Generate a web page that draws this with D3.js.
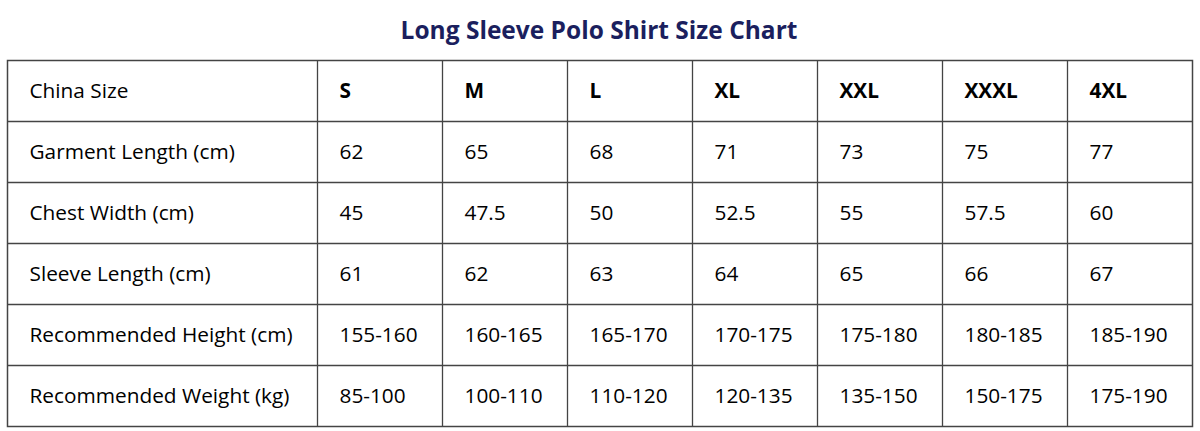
<!DOCTYPE html>
<html>
<head>
<meta charset="utf-8">
<script src="https://cdn.jsdelivr.net/npm/d3@7"></script>
<style>
  body { margin: 0; background: #fff; }
  svg { display: block; font-family: "Open Sans", sans-serif; }
</style>
</head>
<body>
<svg id="chart" width="1200" height="431"></svg>
<script>
const title = 'Long Sleeve Polo Shirt Size Chart';
const sizes = ['S', 'M', 'L', 'XL', 'XXL', 'XXXL', '4XL'];
const rowLabels = ['Garment Length (cm)', 'Chest Width (cm)', 'Sleeve Length (cm)', 'Recommended Height (cm)', 'Recommended Weight (kg)'];
const garmentLength = ['62', '65', '68', '71', '73', '75', '77'];
const chestWidth = ['45', '47.5', '50', '52.5', '55', '57.5', '60'];
const sleeveLength = ['61', '62', '63', '64', '65', '66', '67'];
const recHeight = ['155-160', '160-165', '165-170', '170-175', '175-180', '180-185', '185-190'];
const recWeight = ['85-100', '100-110', '110-120', '120-135', '135-150', '150-175', '175-190'];

// table rows: header first
const rows = [['China Size', ...sizes]].concat(
  [garmentLength, chestWidth, sleeveLength, recHeight, recWeight].map((v, i) => [rowLabels[i], ...v])
);

const svg = d3.select('#chart');
const tLeft = 7.5, firstCol = 317.5, tRight = 1192.5, tTop = 60.5, tBottom = 426.5;

const x = d3.scaleLinear().domain([0, sizes.length]).range([firstCol, tRight]);
const y = d3.scaleLinear().domain([0, rows.length]).range([tTop, tBottom]);
const colX = i => i === 0 ? tLeft : x(i - 1);

svg.append('text')
  .attr('x', 599).attr('y', 39)
  .attr('text-anchor', 'middle')
  .style('font-size', '24.5px').style('font-weight', 700)
  .style('fill', '#1b1f5e')
  .text(title);

const g = svg.append('g');

g.append('rect')
  .attr('x', tLeft).attr('y', tTop)
  .attr('width', tRight - tLeft).attr('height', tBottom - tTop)
  .attr('fill', 'none').attr('stroke', '#444').attr('stroke-width', 1.5);

g.selectAll('.hline')
  .data(d3.range(1, rows.length))
  .join('line')
    .attr('class', 'hline')
    .attr('x1', tLeft).attr('x2', tRight)
    .attr('y1', d => y(d)).attr('y2', d => y(d))
    .attr('stroke', '#444').attr('stroke-width', 1.3);

g.selectAll('.vline')
  .data(d3.range(0, sizes.length))
  .join('line')
    .attr('class', 'vline')
    .attr('x1', d => x(d)).attr('x2', d => x(d))
    .attr('y1', tTop).attr('y2', tBottom)
    .attr('stroke', '#444').attr('stroke-width', 1.3);

const rowG = g.selectAll('.row')
  .data(rows)
  .join('g')
    .attr('class', 'row')
    .attr('transform', (d, i) => `translate(0, ${(y(i) + y(i + 1)) / 2})`);

rowG.selectAll('text')
  .data((d, ri) => d.map((v, ci) => ({v, ci, ri})))
  .join('text')
    .attr('x', d => colX(d.ci) + 22)
    .attr('dy', '0.35em')
    .style('font-size', '20.8px')
    .style('font-weight', d => d.ri === 0 && d.ci > 0 ? 700 : 400)
    .style('fill', '#000')
    .text(d => d.v);
</script>
</body>
</html>
